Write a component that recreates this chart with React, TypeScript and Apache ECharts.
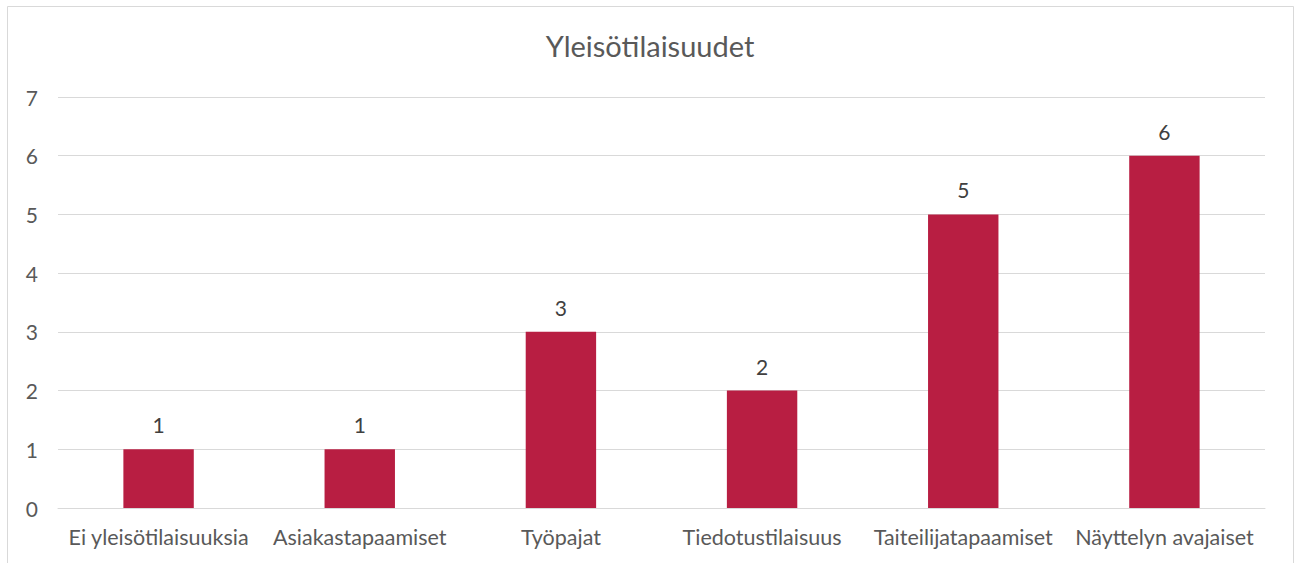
import React, { useEffect, useRef } from "react";
import * as echarts from "echarts";

const categories = [
  "Ei yleisötilaisuuksia",
  "Asiakastapaamiset",
  "Työpajat",
  "Tiedotustilaisuus",
  "Taiteilijatapaamiset",
  "Näyttelyn avajaiset",
];
const values = [1, 1, 3, 2, 5, 6];
const titleText = "Yleisötilaisuudet";

const FONT = "Lato, 'Open Sans', sans-serif";

export default function App() {
  const ref = useRef<HTMLDivElement>(null);
  useEffect(() => {
    if (!ref.current) return;
    const chart = echarts.init(ref.current, undefined, { renderer: "svg" });
    chart.setOption({
      animation: false,
      backgroundColor: "#ffffff",
      title: {
        text: titleText,
        left: "center",
        top: 26,
        textStyle: { fontFamily: FONT, fontSize: 29, fontWeight: "normal", color: "#595959" },
      },
      graphic: [
        {
          type: "rect",
          shape: { x: 7.5, y: 6.5, width: 1286, height: 620 },
          style: { fill: "none", stroke: "#d9d9d9", lineWidth: 1 },
          silent: true,
        },
      ],
      grid: { left: 58, right: 35, top: 97, bottom: 55, containLabel: false },
      xAxis: {
        type: "category",
        data: categories,
        axisLine: { show: true, lineStyle: { color: "#d9d9d9" } },
        axisTick: { show: false },
        axisLabel: { fontFamily: FONT, fontSize: 21.5, color: "#595959", margin: 18, interval: 0 },
      },
      yAxis: {
        type: "value",
        min: 0,
        max: 7,
        interval: 1,
        axisLine: { show: false },
        axisTick: { show: false },
        splitLine: { lineStyle: { color: "#d9d9d9", width: 1 } },
        axisLabel: { fontFamily: FONT, fontSize: 21, color: "#595959", margin: 20 },
      },
      series: [
        {
          type: "bar",
          data: values,
          barWidth: "35%",
          itemStyle: { color: "#B81E42" },
          label: {
            show: true,
            position: "top",
            distance: 14,
            fontFamily: FONT,
            fontSize: 21,
            color: "#404040",
          },
        },
      ],
    });
    return () => chart.dispose();
  }, []);
  return (
    <div
      ref={ref}
      style={{ position: "fixed", left: 0, top: 0, width: 1300, height: 563 }}
    />
  );
}
